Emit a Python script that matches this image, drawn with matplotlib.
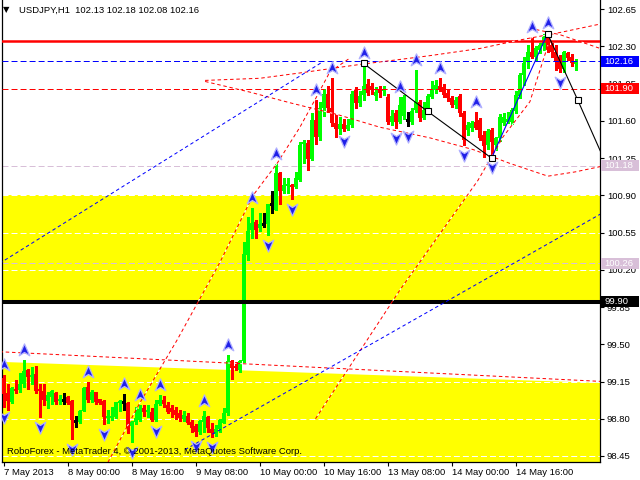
import matplotlib
matplotlib.use('Agg')
import matplotlib.pyplot as plt
import numpy as np
from matplotlib.path import Path
from matplotlib.patches import Rectangle, Polygon
from matplotlib.transforms import blended_transform_factory, offset_copy

plt.rcParams['font.family'] = ['Liberation Sans', 'DejaVu Sans']
plt.rcParams['lines.scale_dashes'] = False

# ---------------- data ----------------
symbol = "USDJPY,H1"
header_ohlc = [102.13, 102.18, 102.08, 102.16]

opens = [99.18, 99.04, 98.96, 99.08, 99.07, 99.13, 99.26, 99.19, 99.22, 99.08,
         99.06, 98.97, 99.00, 99.04, 98.97, 98.98, 99.00, 98.97, 98.78, 98.77,
         98.87, 99.10, 98.98, 99.05, 98.99, 98.97, 98.81, 98.81, 98.82, 98.95,
         98.96, 98.95, 98.73, 98.77, 98.79, 98.90, 98.86, 98.86, 98.79, 98.94,
         98.98, 98.93, 98.90, 98.88, 98.85, 98.80, 98.83, 98.77, 98.73, 98.68,
         98.77, 98.82, 98.70, 98.66, 98.70, 98.76, 98.85, 99.34, 99.30, 99.26,
         99.34, 100.34, 100.57, 100.65, 100.59, 100.63, 100.63, 100.82, 100.76, 101.11,
         100.94, 100.99, 101.00, 100.98, 101.04, 101.38, 101.39, 101.24, 101.61, 101.45,
         101.72, 101.85, 101.72, 101.58, 101.52, 101.57, 101.52, 101.56, 101.89, 101.77,
         101.84, 101.95, 101.93, 101.83, 101.90, 101.88, 101.82, 101.59, 101.67, 101.59,
         101.65, 101.61, 101.59, 101.70, 101.78, 101.63, 101.68, 101.82, 101.89, 101.93,
         101.92, 101.86, 101.81, 101.75, 101.83, 101.67, 101.51, 101.53, 101.59, 101.61,
         101.47, 101.37, 101.51, 101.37, 101.44, 101.58, 101.59, 101.59, 101.69, 101.83,
         102.03, 102.16, 102.25, 102.20, 102.27, 102.30, 102.41, 102.31, 102.25, 102.19,
         102.09, 102.24, 102.20, 102.13]
highs = [99.21, 99.13, 99.10, 99.16, 99.23, 99.35, 99.27, 99.29, 99.30, 99.13,
         99.13, 99.05, 99.07, 99.05, 99.02, 99.04, 99.01, 98.98, 98.83, 98.88,
         99.10, 99.15, 99.07, 99.05, 98.99, 98.98, 98.88, 98.91, 98.96, 98.98,
         99.03, 98.96, 98.78, 98.91, 98.93, 98.93, 98.93, 98.90, 98.98, 99.02,
         99.01, 98.96, 98.93, 98.91, 98.88, 98.87, 98.85, 98.79, 98.75, 98.79,
         98.87, 98.83, 98.76, 98.74, 98.80, 98.90, 99.40, 99.35, 99.33, 99.35,
         100.46, 100.70, 100.78, 100.67, 100.73, 100.73, 100.82, 100.94, 101.19, 101.12,
         101.06, 101.06, 101.01, 101.12, 101.40, 101.42, 101.42, 101.67, 101.80, 101.78,
         101.90, 101.93, 102.00, 101.66, 101.64, 101.62, 101.62, 101.88, 101.92, 101.88,
         102.14, 101.99, 101.96, 101.92, 101.93, 101.93, 101.85, 101.70, 101.70, 101.82,
         101.84, 101.68, 101.72, 102.08, 101.80, 101.78, 101.85, 101.97, 101.98, 102.00,
         101.95, 101.89, 101.83, 101.82, 101.85, 101.69, 101.59, 101.60, 101.68, 101.63,
         101.50, 101.52, 101.53, 101.45, 101.66, 101.67, 101.68, 101.72, 101.88, 102.05,
         102.20, 102.31, 102.39, 102.30, 102.33, 102.42, 102.43, 102.33, 102.31, 102.22,
         102.26, 102.25, 102.23, 102.18]
lows = [98.91, 98.88, 98.95, 99.04, 99.05, 99.10, 99.08, 99.13, 99.04, 98.82,
        98.93, 98.90, 98.94, 98.94, 98.94, 98.94, 98.94, 98.61, 98.72, 98.76,
        98.87, 98.96, 98.96, 98.94, 98.94, 98.75, 98.76, 98.79, 98.81, 98.87,
        98.88, 98.67, 98.58, 98.75, 98.78, 98.83, 98.82, 98.78, 98.78, 98.93,
        98.91, 98.85, 98.82, 98.80, 98.78, 98.78, 98.75, 98.68, 98.64, 98.66,
        98.68, 98.68, 98.63, 98.64, 98.68, 98.76, 98.84, 99.17, 99.26, 99.24,
        99.33, 100.29, 100.50, 100.50, 100.56, 100.60, 100.53, 100.73, 100.76, 100.82,
        100.92, 100.92, 100.87, 100.97, 101.03, 101.20, 101.14, 101.23, 101.38, 101.42,
        101.65, 101.68, 101.55, 101.45, 101.48, 101.50, 101.51, 101.54, 101.72, 101.74,
        101.80, 101.84, 101.85, 101.80, 101.82, 101.84, 101.57, 101.56, 101.53, 101.58,
        101.62, 101.55, 101.57, 101.68, 101.60, 101.62, 101.66, 101.81, 101.86, 101.88,
        101.82, 101.79, 101.73, 101.72, 101.65, 101.37, 101.47, 101.50, 101.52, 101.42,
        101.26, 101.34, 101.26, 101.33, 101.41, 101.56, 101.58, 101.57, 101.67, 101.81,
        101.94, 102.10, 102.19, 102.17, 102.24, 102.27, 102.25, 102.20, 102.08, 102.06,
        102.06, 102.17, 102.12, 102.08]
closes = [99.03, 98.97, 99.09, 99.06, 99.13, 99.25, 99.19, 99.21, 99.06, 99.06,
          98.98, 99.02, 99.06, 98.96, 98.99, 98.98, 98.95, 98.79, 98.78, 98.87,
          99.09, 98.98, 99.05, 98.96, 98.95, 98.82, 98.83, 98.83, 98.96, 98.97,
          98.96, 98.71, 98.77, 98.81, 98.89, 98.86, 98.88, 98.79, 98.94, 98.98,
          98.94, 98.86, 98.86, 98.84, 98.81, 98.84, 98.76, 98.71, 98.68, 98.78,
          98.83, 98.71, 98.67, 98.70, 98.79, 98.85, 99.34, 99.28, 99.28, 99.34,
          100.35, 100.56, 100.64, 100.57, 100.63, 100.63, 100.82, 100.82, 101.11, 100.94,
          101.00, 101.00, 100.98, 101.06, 101.37, 101.40, 101.24, 101.61, 101.45, 101.72,
          101.85, 101.72, 101.58, 101.52, 101.57, 101.52, 101.56, 101.85, 101.77, 101.83,
          101.93, 101.86, 101.89, 101.87, 101.86, 101.89, 101.59, 101.65, 101.59, 101.75,
          101.82, 101.61, 101.69, 101.78, 101.63, 101.70, 101.83, 101.90, 101.94, 101.90,
          101.84, 101.81, 101.75, 101.80, 101.67, 101.42, 101.56, 101.58, 101.53, 101.44,
          101.36, 101.50, 101.40, 101.44, 101.64, 101.64, 101.62, 101.70, 101.84, 102.03,
          102.14, 102.25, 102.20, 102.28, 102.31, 102.39, 102.27, 102.25, 102.16, 102.09,
          102.25, 102.19, 102.14, 102.16]

x_tick_bars = [0, 16, 32, 48, 64, 80, 96, 112, 128]
x_tick_labels = ["7 May 2013", "8 May 00:00", "8 May 16:00", "9 May 08:00",
                 "10 May 00:00", "10 May 16:00", "13 May 08:00", "14 May 00:00",
                 "14 May 16:00"]
y_ticks = [98.45, 98.80, 99.15, 99.50, 99.85, 100.20, 100.55, 100.90,
           101.25, 101.60, 101.95, 102.30, 102.65]

# fractal bars (indices)
up_fractals = [0, 5, 21, 30, 34, 39, 50, 56, 62, 68, 78, 82, 90, 99, 103, 109, 118, 132, 136]
down_fractals = [0, 9, 17, 25, 32, 38, 48, 52, 66, 72, 85, 98, 101, 115, 122, 139]

# horizontal levels
resistance_level = 102.35
bid_level = 102.16
red_level = 101.90
thistle_levels = [101.18, 100.26]
black_level = 99.90
zone_upper = (99.90, 100.90)
zone_lower_edge = [(-1.0, 99.335), (150.0, 99.135)]

# trend-line objects (bar index, price)
red_lines = [
    [(-1.0, 99.43), (150.0, 99.15)],
    [(26.1, 98.39), (34.1, 98.95), (43.4, 99.54), (54.1, 100.27), (62.4, 100.90),
     (68.4, 101.20), (74.1, 101.54), (77.9, 101.80), (81.6, 102.06), (86.6, 102.19)],
    [(50.4, 101.98), (64.1, 102.00), (74.1, 102.05), (89.1, 102.13), (106.1, 102.21),
     (119.1, 102.28), (129.1, 102.36), (139.1, 102.43), (149.2, 102.51)],
    [(50.4, 101.97), (61.6, 101.87), (71.6, 101.77), (83.4, 101.66), (94.1, 101.54),
     (106.6, 101.44), (117.4, 101.33), (126.6, 101.20), (136.1, 101.08),
     (142.9, 101.12), (149.2, 101.17)],
    [(131.6, 102.47), (139.1, 102.41), (149.2, 102.28)],
    [(78.0, 98.80), (99.1, 100.01), (118.6, 101.04), (124.9, 101.45), (131.6, 101.78),
     (136.1, 102.31)],
]
blue_dashed_lines = [
    [(-1.0, 100.26), (79.6, 102.15)],
    [(45.4, 98.51), (150.0, 100.74)],
]
forecast_black_1 = [(90, 102.14), (106, 101.69), (122, 101.25)]
forecast_blue = [(122, 101.25), (136, 102.42)]
forecast_black_2 = [(136, 102.42), (143.5, 101.80), (154, 100.91)]

# ---------------- figure ----------------
fig = plt.figure(figsize=(6.4, 4.8), dpi=100)
ax = fig.add_axes([2 / 640, 18 / 480, 598 / 640, 462 / 480])
ax.set_xlim(-0.375, 149.125)
ax.set_ylim(98.3936, 102.7357)
ax.set_facecolor('white')

YEL = '#FFFF00'
ax.axhspan(zone_upper[0], zone_upper[1], color=YEL, lw=0, zorder=0.2)
(x0, y0), (x1, y1) = zone_lower_edge
ax.add_patch(Polygon([(x0, y0), (x1, y1), (x1, 97.0), (x0, 97.0)], closed=True,
                     facecolor=YEL, edgecolor='none', zorder=0.2))

dash = (0, (4.3, 2.2))
for yv in y_ticks:
    ax.axhline(yv, color='white', lw=0.72, ls=dash, zorder=0.5)

for lv in thistle_levels:
    ax.axhline(lv, color='#D8BFD8', lw=0.72, ls=dash, zorder=1)

# candles
o, h, l, c = map(np.array, (opens, highs, lows, closes))
idx = np.arange(len(o))
cols = np.where(c > o, '#00FF00', np.where(c < o, '#FF0000', '#000000'))
ax.vlines(idx, l, h, colors=cols, lw=0.9, zorder=3, antialiased=False)
nd = c != o
bot = np.minimum(o, c)
bh = np.maximum(np.abs(c - o), 0.012)
ax.bar(idx[nd], bh[nd], bottom=bot[nd], width=0.8, color=cols[nd], lw=0, zorder=3,
       antialiased=False)
dj = ~nd
ax.hlines(o[dj], idx[dj] - 0.45, idx[dj] + 0.45, colors='black', lw=0.9, zorder=3,
          antialiased=False)

# horizontal lines
ax.axhline(resistance_level, color='#FF0000', lw=1.8, zorder=4)
ax.axhline(bid_level, color='#0000FF', lw=0.72, ls=dash, zorder=4)
ax.axhline(red_level, color='#FF0000', lw=0.72, ls=dash, zorder=4)
ax.axhline(black_level, color='black', lw=2.9, zorder=4)

# trend lines
for pts in red_lines:
    xs, ys = zip(*pts)
    ax.plot(xs, ys, color='#FF0000', lw=0.72, ls=(0, (2.5, 2.0)), gapcolor='white', zorder=4)
for pts in blue_dashed_lines:
    xs, ys = zip(*pts)
    ax.plot(xs, ys, color='#0000FF', lw=0.72, ls=(0, (2.5, 2.0)), zorder=4)

for pts, col in ((forecast_black_1, 'black'), (forecast_blue, '#0000FF'), (forecast_black_2, 'black')):
    xs, ys = zip(*pts)
    ax.plot(xs, ys, color=col, lw=0.8, zorder=5)
sq = forecast_black_1 + forecast_black_2[:2]
xs, ys = zip(*sq)
ax.plot(xs, ys, ls='none', marker='s', ms=4.2, mfc='white', mec='black', mew=0.8, zorder=6)

# fractal arrows
up_path = Path([(0, 1), (0.8, -0.8), (0, -0.3), (-0.8, -0.8), (0, 1)],
               [Path.MOVETO, Path.LINETO, Path.LINETO, Path.LINETO, Path.CLOSEPOLY])
dn_path = Path([(0, -1), (0.8, 0.8), (0, 0.3), (-0.8, 0.8), (0, -1)],
               [Path.MOVETO, Path.LINETO, Path.LINETO, Path.LINETO, Path.CLOSEPOLY])
t_up = offset_copy(ax.transData, fig=fig, x=0, y=10, units='dots')
t_dn = offset_copy(ax.transData, fig=fig, x=0, y=-10, units='dots')
ub = np.array(up_fractals)
db = np.array(down_fractals)
ax.plot(ub, h[ub], ls='none', marker=up_path, ms=9.5, mfc='#2020E8', mec='#B0B0FF',
        mew=0.9, transform=t_up, zorder=7)
ax.plot(db, l[db], ls='none', marker=dn_path, ms=9.5, mfc='#2020E8', mec='#B0B0FF',
        mew=0.9, transform=t_dn, zorder=7)

# axes styling
for s in ('left', 'right', 'bottom'):
    ax.spines[s].set_color('black')
    ax.spines[s].set_linewidth(0.9)
ax.spines['top'].set_visible(False)
ax.yaxis.tick_right()
ax.set_yticks(y_ticks)
ax.set_yticklabels([f"{v:.2f}" for v in y_ticks])
ax.tick_params(axis='y', length=3, width=0.8, pad=2, labelsize=6.8, direction='out')
ax.set_xticks(x_tick_bars)
ax.set_xticklabels(x_tick_labels, ha='left')
ax.tick_params(axis='x', length=3, width=0.8, pad=1.5, labelsize=6.8, direction='out')

# price label boxes on the right axis
bt = blended_transform_factory(ax.transAxes, ax.transData)
boxes = [(bid_level, '#0000FF'), (red_level, '#FF0000'),
         (thistle_levels[0], '#D8BFD8'), (thistle_levels[1], '#D8BFD8'),
         (black_level, '#000000')]
hh = 11 / 106.4
for lv, col in boxes:
    ax.add_patch(Rectangle((1.0017, lv - hh / 2), 38 / 598, hh, transform=bt,
                           clip_on=False, facecolor=col, edgecolor='none', zorder=8))
    ax.text(1.0075, lv, f"{lv:.2f}", transform=bt, color='white', fontsize=6.8,
            va='center', ha='left', zorder=9, clip_on=False)

fig.text(3 / 640, 1 - 10 / 480, '\u25BC', fontsize=6, va='center', ha='left',
         family='DejaVu Sans')
fig.text(19 / 640, 1 - 10 / 480,
         symbol + "  " + " ".join(f"{v:.2f}" for v in header_ohlc),
         fontsize=6.8, va='center', ha='left', color='black')
fig.text(7 / 640, 1 - 452 / 480,
         "RoboForex - MetaTrader 4, \u00A9 2001-2013, MetaQuotes Software Corp.",
         fontsize=6.8, va='center', ha='left', color='black', zorder=10)

fig.savefig('out.png', dpi=100)
